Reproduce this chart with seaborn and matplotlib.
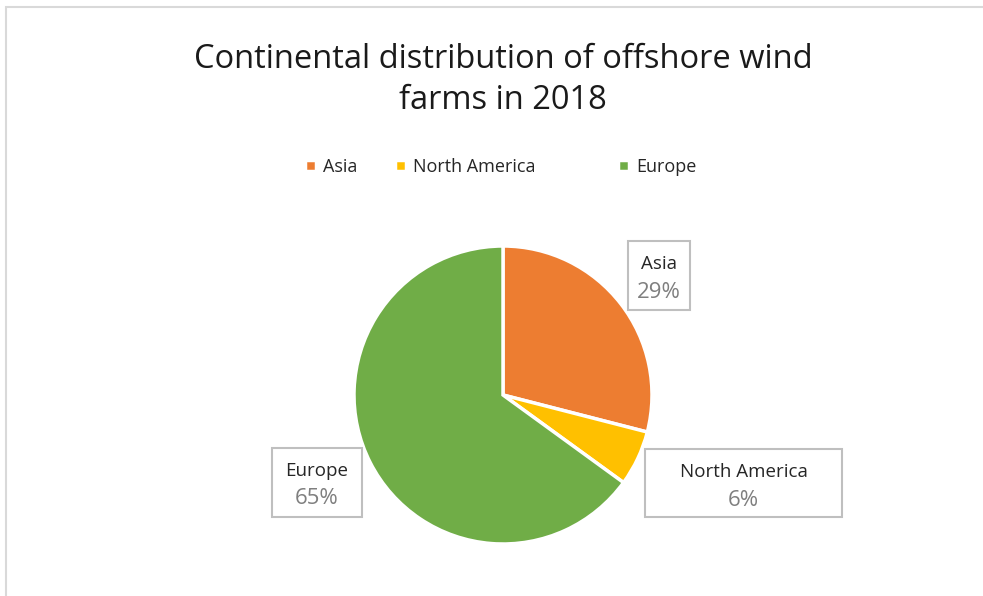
import matplotlib
matplotlib.use("Agg")
import matplotlib.pyplot as plt
import seaborn as sns
from matplotlib.patches import Rectangle

# data
continents = ["Asia", "North America", "Europe"]
shares = [29, 6, 65]
colors = ["#ED7D31", "#FFC000", "#70AD47"]

sns.set_theme(style="white")
plt.rcParams["font.family"] = ["Open Sans", "DejaVu Sans"]

W, H = 983, 596
fig = plt.figure(figsize=(W / 100, H / 100), dpi=100)
fig.patch.set_facecolor("white")


def fx(x):
    return x / W


def fy(y):
    return 1 - y / H


# outer frame of the chart area (left and top edges visible)
fig.add_artist(Rectangle((fx(6), fy(700)), fx(1100), 693 / H,
                         transform=fig.transFigure, fill=False, edgecolor="#d9d9d9", lw=1.5))

# title
fig.text(fx(503), fy(80), "Continental distribution of offshore wind\nfarms in 2018",
         ha="center", va="center", fontsize=23.5, color="#1a1a1a", linespacing=1.3)

# pie
cx, cy, r = 503, 395, 149
ax = fig.add_axes([fx(cx - r), fy(cy + r), fx(2 * r), 2 * r / H])
wedges, _ = ax.pie(shares, colors=colors, startangle=90, counterclock=False,
                   wedgeprops=dict(edgecolor="white", linewidth=2.5))
ax.set_xlim(-1.0, 1.0)
ax.set_ylim(-1.0, 1.0)
ax.set_aspect("equal")
ax.axis("off")

# legend entries (uneven spacing as in the original)
legend_x = [305, 395, 618]
for w, name, lx in zip(wedges, continents, legend_x):
    fig.legend([w], [name], loc="center left", bbox_to_anchor=(fx(lx), fy(167)),
               frameon=False, fontsize=13, handlelength=0.6, handleheight=0.6,
               handletextpad=0.4, borderpad=0, borderaxespad=0, labelcolor="#262626")

# data label boxes (x0, y0, x1, y1) in pixels
boxes = [(628, 241, 690, 310), (645, 449, 842, 517), (272, 448, 362, 517)]
for (x0, y0, x1, y1), name, val in zip(boxes, continents, shares):
    fig.add_artist(Rectangle((fx(x0), fy(y1)), fx(x1 - x0), (y1 - y0) / H,
                             transform=fig.transFigure, facecolor="white",
                             edgecolor="#bfbfbf", lw=1.5))
    xc = (x0 + x1) / 2
    fig.text(fx(xc), fy(y0 + 23), name, ha="center", va="center", fontsize=13.5, color="#262626")
    fig.text(fx(xc), fy(y0 + 51), f"{val}%", ha="center", va="center", fontsize=16, color="#7f7f7f")

fig.savefig("out.png", dpi=100)
